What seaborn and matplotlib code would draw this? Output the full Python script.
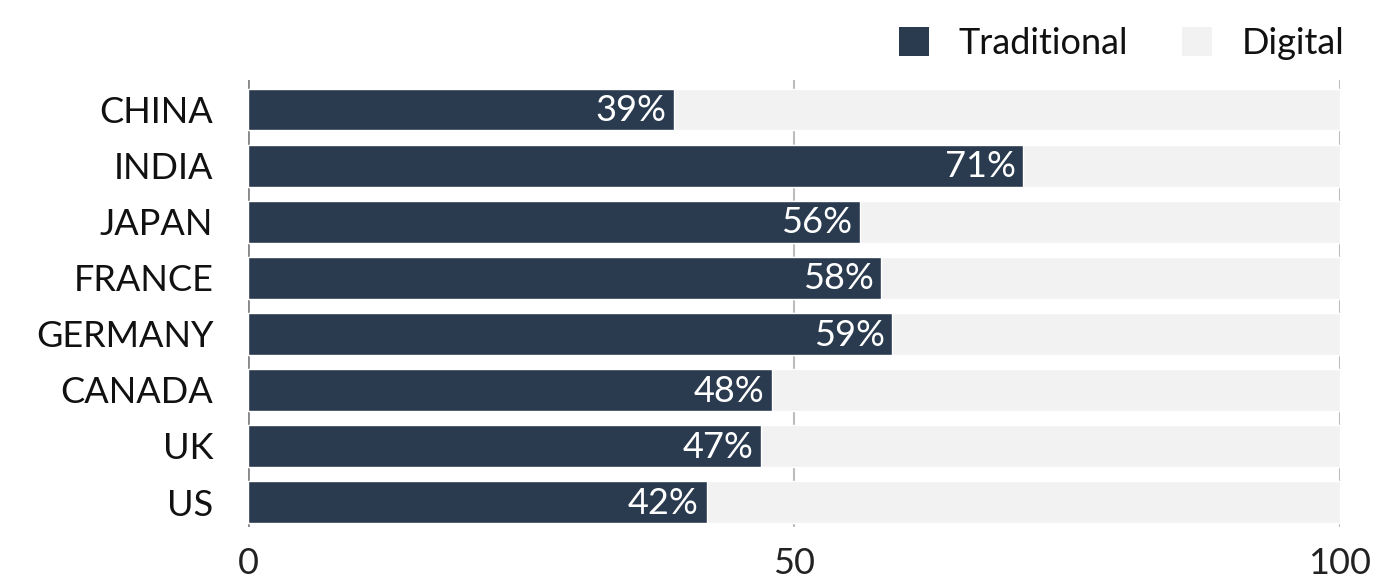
import matplotlib
matplotlib.use("Agg")
import matplotlib.pyplot as plt
import seaborn as sns
import pandas as pd
from matplotlib.patches import Patch

countries = ["CHINA", "INDIA", "JAPAN", "FRANCE", "GERMANY", "CANADA", "UK", "US"]
traditional = [39, 71, 56, 58, 59, 48, 47, 42]
digital = [61, 29, 44, 42, 41, 52, 53, 58]
x_ticks = [0, 50, 100]

sns.set_theme(style="white")
plt.rcParams['font.family'] = ['Lato', 'DejaVu Sans']

dark = "#2a3b50"
light = "#f2f2f2"
fs = 26

df = pd.DataFrame({"country": countries, "traditional": traditional, "digital": digital})
df["total"] = df["traditional"] + df["digital"]

fig = plt.figure(figsize=(13.78, 5.8), dpi=100)
ax = fig.add_axes([0.18, 0.091, 0.7924, 0.771])

sns.barplot(data=df, x="total", y="country", orient="h", color=light, width=0.74,
            saturation=1, ax=ax, zorder=2)
sns.barplot(data=df, x="traditional", y="country", orient="h", color=dark, width=0.74,
            saturation=1, ax=ax, zorder=3)

for i, v in enumerate(traditional):
    ax.text(v - 0.7, i + 0.02, f"{v}%", color="white", ha="right", va="center",
            fontsize=fs, fontweight="normal", zorder=4)

ax.set_xlim(0, 100)
ax.set_ylim(7.45, -0.53)
ax.set_xticks(x_ticks)
ax.set_xticklabels([str(t) for t in x_ticks], fontsize=fs, fontweight="normal", color="#222222")
ax.tick_params(axis="x", length=0, pad=14)
ax.tick_params(axis="y", length=0, pad=25, labelsize=fs)
for lab in ax.get_yticklabels():
    lab.set_fontweight("normal")
    lab.set_color("#111111")
ax.set_xlabel("")
ax.set_ylabel("")
for s in ax.spines.values():
    s.set_visible(False)
ax.xaxis.grid(True, color="#bdbdbd", linewidth=1.5, zorder=0)
ax.set_axisbelow(True)
ax.axvline(0, color="#888888", linewidth=2, zorder=1)

handles = [Patch(facecolor=dark, edgecolor="none", label="Traditional"),
           Patch(facecolor=light, edgecolor="none", label="Digital")]
leg = fig.legend(handles=handles, loc="upper right", bbox_to_anchor=(0.999, 1.01), ncol=2,
                 frameon=False, handlelength=0.85, handleheight=0.85,
                 handletextpad=0.8, columnspacing=1.5, prop={"weight": "normal", "size": fs})
for t in leg.get_texts():
    t.set_color("#111111")

fig.savefig("out.png", dpi=100)
